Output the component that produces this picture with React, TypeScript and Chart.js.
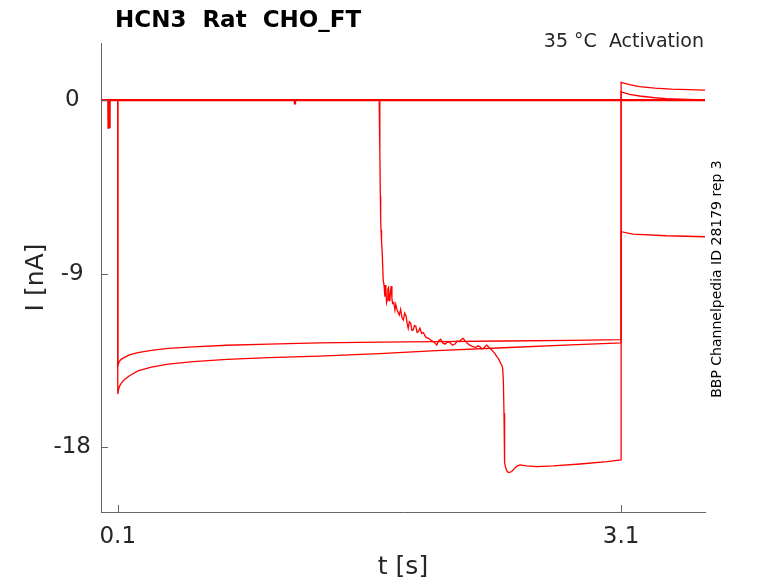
import { useEffect, useRef } from 'react';
import { Chart, registerables } from 'chart.js';

Chart.register(...registerables);

// 4 sweeps of the activation protocol (t in s, I in nA)
const T_SWEEP1 = [
  0, 0.041, 0.042, 0.043, 0.1, 0.1, 0.105, 0.11, 0.12, 0.14, 0.17, 0.22, 0.3, 0.4, 0.55, 0.75, 1.0, 1.3, 1.66, 2.0, 2.4, 2.8, 3.1,
  3.1, 3.15, 3.21, 3.3, 3.4, 3.5, 3.6,
];
const I_SWEEP1 = [
  0, 0, -1.45, 0, 0, -15.25, -15.0, -14.85, -14.7, -14.5, -14.3, -14.05, -13.85, -13.7, -13.57, -13.45, -13.36, -13.28, -13.15, -13.0, -12.85, -12.7, -12.6,
  0.92, 0.8, 0.7, 0.62, 0.57, 0.54, 0.52,
];

const T_SWEEP2 = [
  0, 0.044, 0.045, 0.046, 0.1, 0.1, 0.105, 0.11, 0.12, 0.14, 0.17, 0.22, 0.3, 0.4, 0.55, 0.75, 1.0, 1.3, 1.66, 2.0, 2.4, 2.8, 3.1,
  3.1, 3.15, 3.21, 3.3, 3.37, 3.5, 3.6,
];
const I_SWEEP2 = [
  0, 0, -1.45, 0, 0, -13.8, -13.65, -13.55, -13.45, -13.35, -13.22, -13.1, -12.98, -12.88, -12.8, -12.72, -12.66, -12.6, -12.56, -12.53, -12.5, -12.47, -12.43,
  0.43, 0.3, 0.21, 0.12, 0.07, 0.03, 0.01,
];

const T_SWEEP3 = [
  0, 0.047, 0.048, 0.049, 1.658, 1.662, 1.665, 1.667, 1.669, 1.672, 1.676, 1.682, 1.687, 1.692, 1.695, 1.698, 1.702, 1.706, 1.71, 1.714,
  1.718, 1.722, 1.726, 1.73, 1.734, 1.738, 1.745, 1.752, 1.757, 1.762, 1.77, 1.778, 1.786, 1.794, 1.802, 1.81, 1.818, 1.825, 1.831,
  1.838, 1.846, 1.853, 1.861, 1.868, 1.876, 1.884, 1.891, 1.901, 1.911, 1.921, 1.936, 1.951, 1.965, 1.98, 1.99, 2.001, 2.012, 2.025,
  2.037, 2.05, 2.065, 2.08, 2.095, 2.11, 2.123, 2.136, 2.147, 2.159, 2.171, 2.183, 2.196, 2.209, 2.222, 2.235, 2.247, 2.259, 2.269,
  2.279, 2.289, 2.299, 2.309, 2.319, 2.33, 2.338, 2.348, 2.359, 2.368, 2.376, 2.382, 2.388, 2.394, 2.398, 2.402, 2.404, 2.407, 2.41,
  2.418, 2.428, 2.438, 2.448, 2.458, 2.468, 2.483, 2.498, 2.537, 2.597, 2.696, 2.855, 3.015, 3.1, 3.1, 3.17, 3.37, 3.6,
];
const I_SWEEP3 = [
  0, 0, -1.45, 0, 0, -2.8, -5.0, -6.2, -6.74, -7.3, -7.9, -9.34, -9.6, -10.2, -9.6, -9.77, -10.5, -10.37, -9.8, -9.72,
  -10.4, -10.29, -9.9, -9.65, -10.3, -10.55, -10.5, -10.89, -10.6, -10.81, -11.0, -11.15, -10.86, -11.3, -11.41, -11.05, -11.2, -11.6, -11.84,
  -11.5, -11.58, -11.95, -11.93, -11.7, -11.72, -12.05, -12.01, -11.84, -12.1, -12.06, -12.3, -12.36, -12.45, -12.53, -12.6, -12.71, -12.5, -12.41,
  -12.6, -12.66, -12.55, -12.58, -12.72, -12.66, -12.5, -12.53, -12.42, -12.36, -12.5, -12.62, -12.7, -12.76, -12.8, -12.83, -12.75, -12.8, -12.9,
  -12.88, -12.78, -12.71, -12.8, -12.88, -12.98, -13.05, -13.15, -13.31, -13.4, -13.55, -13.66, -13.74, -13.92, -14.52, -16.25, -18.33, -18.8, -19.02,
  -19.22, -19.32, -19.3, -19.27, -19.17, -19.07, -18.98, -18.93, -18.98, -19.02, -18.98, -18.88, -18.76, -18.67, -6.83, -6.95, -7.04, -7.09,
];

const T_SWEEP4 = [0, 0.05, 0.051, 0.052, 1.154, 1.156, 1.158, 3.6];
const I_SWEEP4 = [0, 0, -1.45, 0, 0, -0.22, 0, 0];

const X_TICKS = [0.1, 3.1];
const Y_TICKS = [0, -9, -18];

const TITLE = 'HCN3  Rat  CHO_FT';
const SUBTITLE = '35 °C  Activation';
const SIDE_NOTE = 'BBP Channelpedia ID 28179 rep 3';

const toPoints = (t: number[], i: number[]) => t.map((x, k) => ({ x, y: i[k] }));

const textPlugin = {
  id: 'matlabText',
  afterDraw(chart: Chart) {
    const { ctx, chartArea, scales } = chart;
    const xs = scales.x;
    const ys = scales.y;
    ctx.save();
    // inward tick marks
    ctx.strokeStyle = '#666';
    ctx.lineWidth = 1;
    ctx.beginPath();
    Y_TICKS.forEach((v) => {
      const y = Math.round(ys.getPixelForValue(v)) + 0.5;
      ctx.moveTo(chartArea.left, y);
      ctx.lineTo(chartArea.left + 7, y);
    });
    X_TICKS.forEach((v) => {
      const x = Math.round(xs.getPixelForValue(v)) + 0.5;
      ctx.moveTo(x, chartArea.bottom);
      ctx.lineTo(x, chartArea.bottom - 7);
    });
    ctx.stroke();

    ctx.fillStyle = '#000';
    ctx.font = 'bold 23px "DejaVu Sans"';
    ctx.textAlign = 'left';
    ctx.textBaseline = 'alphabetic';
    ctx.fillText(TITLE, 115, 27);

    ctx.fillStyle = '#262626';
    ctx.font = '19px "DejaVu Sans"';
    ctx.textAlign = 'right';
    ctx.fillText(SUBTITLE, 704, 47);

    ctx.font = '25px "DejaVu Sans"';
    ctx.textAlign = 'center';
    ctx.textBaseline = 'middle';
    ctx.fillText('t [s]', (chartArea.left + chartArea.right) / 2, 567);

    ctx.save();
    ctx.translate(36, (chartArea.top + chartArea.bottom) / 2);
    ctx.rotate(-Math.PI / 2);
    ctx.fillText('I [nA]', 0, 0);
    ctx.restore();

    ctx.save();
    ctx.fillStyle = '#000';
    ctx.font = '14px "DejaVu Sans"';
    ctx.translate(717, 279);
    ctx.rotate(-Math.PI / 2);
    ctx.fillText(SIDE_NOTE, 0, 0);
    ctx.restore();

    ctx.restore();
  },
};

export default function App() {
  const canvasRef = useRef<HTMLCanvasElement>(null);
  const chartRef = useRef<Chart | null>(null);

  useEffect(() => {
    if (!canvasRef.current) return;
    chartRef.current?.destroy();

    const sweep = (t: number[], i: number[], width = 1.3) => ({
      data: toPoints(t, i),
      borderColor: '#ff0000',
      backgroundColor: '#ff0000',
      borderWidth: width,
      pointRadius: 0,
      showLine: true,
      tension: 0,
    });

    chartRef.current = new Chart(canvasRef.current, {
      type: 'scatter',
      data: {
        datasets: [
          sweep(T_SWEEP1, I_SWEEP1),
          sweep(T_SWEEP2, I_SWEEP2),
          sweep(T_SWEEP3, I_SWEEP3),
          sweep(T_SWEEP4, I_SWEEP4, 2.2),
        ],
      },
      options: {
        responsive: false,
        animation: false,
        layout: { padding: { left: 0, top: 43, right: 73, bottom: 0 } },
        plugins: {
          legend: { display: false },
          tooltip: { enabled: false },
        },
        scales: {
          x: {
            type: 'linear',
            min: 0,
            max: 3.6,
            grid: { display: false, drawTicks: false },
            border: { display: true, color: '#666', width: 1 },
            afterBuildTicks: (s) => {
              s.ticks = X_TICKS.map((value) => ({ value }));
            },
            afterFit: (s) => {
              s.height = 71;
            },
            ticks: {
              color: '#262626',
              font: { family: 'DejaVu Sans', size: 23 },
              padding: 11,
              maxRotation: 0,
              callback: (v) => String(v),
            },
          },
          y: {
            type: 'linear',
            min: -21.37,
            max: 2.96,
            grid: { display: false, drawTicks: false },
            border: { display: true, color: '#666', width: 1 },
            afterBuildTicks: (s) => {
              s.ticks = Y_TICKS.map((value) => ({ value }));
            },
            afterFit: (s) => {
              s.width = 101;
            },
            ticks: {
              color: '#262626',
              font: { family: 'DejaVu Sans', size: 23 },
              padding: 10,
              crossAlign: 'center',
              callback: (v) => String(v),
            },
          },
        },
      },
      plugins: [textPlugin],
    });

    return () => {
      chartRef.current?.destroy();
      chartRef.current = null;
    };
  }, []);

  return (
    <div style={{ position: 'absolute', left: 0, top: 0, width: 778, height: 583, background: '#fff' }}>
      <canvas ref={canvasRef} width={778} height={583} />
    </div>
  );
}
